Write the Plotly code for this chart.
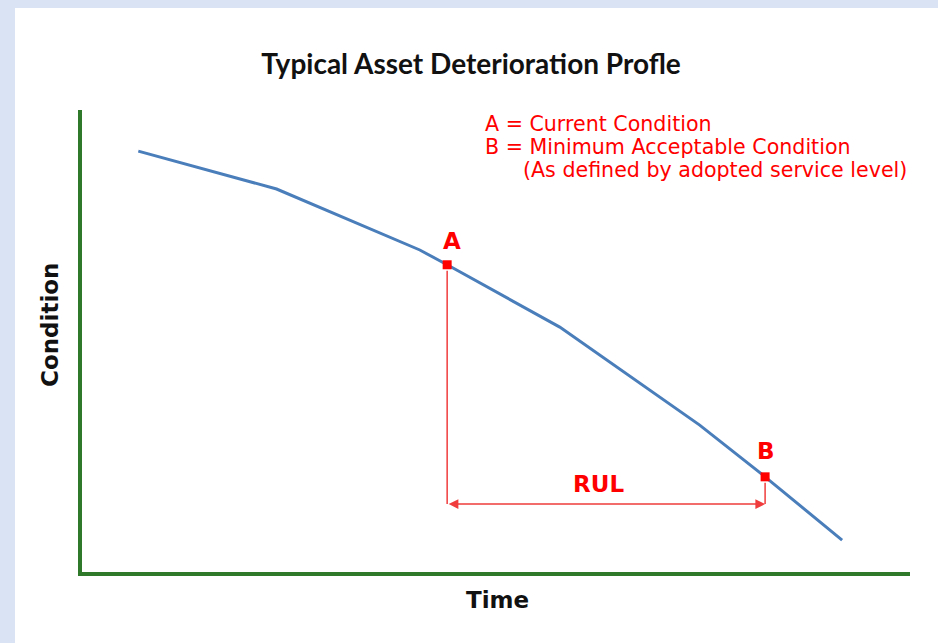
import plotly.graph_objects as go

# Curve data (arbitrary Time / Condition units, 0-100)
time_vals = [6.8, 23.5, 40.8, 44.1, 57.7, 74.6, 82.5, 91.8]
condition_vals = [91.1, 82.9, 69.7, 66.5, 53.0, 31.8, 20.6, 6.9]

point_labels = ["A", "B"]
point_time = [44.1, 82.5]
point_cond = [66.5, 20.6]
rul_level = 14.7

legend_lines = ["A = Current Condition", "B = Minimum Acceptable Condition",
                "(As defined by adopted service level)"]

RED = "#ff0000"
LINE_RED = "#f03c3c"
GREEN = "#2f7a2a"
BLUE = "#4a7ebb"
BAND = "#dae3f3"

# plot-area geometry (pixels)
W, H = 938, 643
L, R, T, B = 82, 28, 110, 71
PW, PH = W - L - R, H - T - B


def px(x):
    return (x - L) / PW


def py(y):
    return (H - B - y) / PH


def label(x, y, text, size, color=RED, xanchor="center", angle=0):
    fig.add_annotation(xref="paper", yref="paper", x=px(x), y=py(y), text=text,
                       showarrow=False, xanchor=xanchor, yanchor="middle", textangle=angle,
                       font=dict(family="DejaVu Sans", size=size, color=color))


fig = go.Figure()
fig.add_trace(go.Scatter(x=time_vals, y=condition_vals, mode="lines",
                         line=dict(color=BLUE, width=3), hoverinfo="skip"))

# vertical drop lines
for t, c in zip(point_time, point_cond):
    fig.add_trace(go.Scatter(x=[t, t], y=[c - 1.3, rul_level], mode="lines",
                             line=dict(color=LINE_RED, width=1.5), hoverinfo="skip"))

fig.add_trace(go.Scatter(x=point_time, y=point_cond, mode="markers",
                         marker=dict(color=RED, size=9, symbol="square"), hoverinfo="skip"))

# RUL arrow
fig.add_annotation(x=point_time[1], y=rul_level, ax=point_time[0], ay=rul_level,
                   xref="x", yref="y", axref="x", ayref="y", text="",
                   showarrow=True, arrowhead=2, startarrowhead=2, arrowside="end+start",
                   arrowsize=1.3, arrowwidth=1.5, arrowcolor=LINE_RED)
label(598, 484, "<b>RUL</b>", 23)

# point labels
label(452, 241, "<b>A</b>", 23)
label(766, 451, "<b>B</b>", 23)

# legend text
leg_px = [(483, 124), (483, 147), (521, 170)]
for t, (lx, ly) in zip(legend_lines, leg_px):
    label(lx, ly, t, 20.6, xanchor="left")

# axis titles
label(497, 600, "<b>Time</b>", 23, color="#111111")
label(50, 325, "<b>Condition</b>", 23, color="#111111", angle=-90)

# background bands
fig.add_shape(type="rect", xref="paper", yref="paper", x0=px(-20), x1=px(960),
              y0=py(8), y1=py(-20), fillcolor=BAND, line_width=0, layer="below")
fig.add_shape(type="rect", xref="paper", yref="paper", x0=px(-20), x1=px(15),
              y0=py(680), y1=py(-20), fillcolor=BAND, line_width=0, layer="below")

fig.update_layout(
    width=W, height=H,
    margin=dict(l=L, r=R, t=T, b=B),
    paper_bgcolor="white", plot_bgcolor="white",
    showlegend=False,
    title=dict(text="<b>Typical Asset Deterioration Profle</b>", x=471 / W, xanchor="center",
               y=1 - 64 / H, yanchor="middle",
               font=dict(family="Lato", size=28, color="#111111")),
    xaxis=dict(range=[0, 100], showgrid=False, zeroline=False, showticklabels=False,
               ticks="", showline=True, linecolor=GREEN, linewidth=4, fixedrange=True),
    yaxis=dict(range=[0, 100], showgrid=False, zeroline=False, showticklabels=False,
               ticks="", showline=True, linecolor=GREEN, linewidth=4, fixedrange=True),
)

fig.write_html("out.html", config={"displayModeBar": False},
               post_script="document.body.style.margin='0';"
                           "document.body.style.overflow='hidden';")
